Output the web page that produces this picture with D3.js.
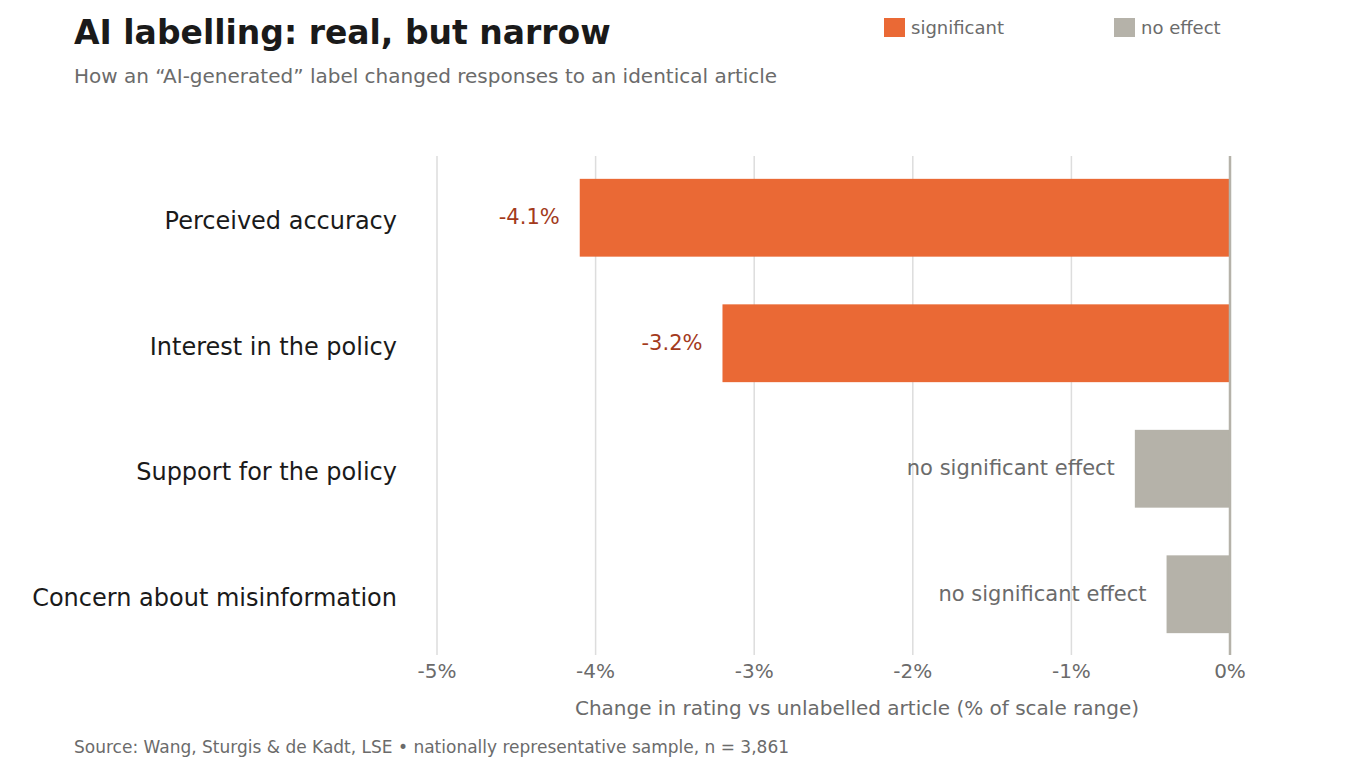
<html>
<head>
<meta charset="utf-8">
<script src="https://d3js.org/d3.v7.min.js"></script>
<style>
body { margin: 0; background: #fff; font-family: "DejaVu Sans", sans-serif; }
</style>
</head>
<body>
<svg id="page"></svg>
<script>
// data
var categories = ["Perceived accuracy", "Interest in the policy", "Support for the policy", "Concern about misinformation"];
var values = [-4.1, -3.2, -0.6, -0.4];
var significant = [true, true, false, false];
var ticks = [-5, -4, -3, -2, -1, 0];

var orange = "#ea6935", grey = "#b5b2a9", darkText = "#1a1a1a", mid = "#6b6b6b";

var svg = d3.select("#page").attr("width", 1350).attr("height", 780);

var x = d3.scaleLinear().domain([-5, 0]).range([437, 1230]);
var y = d3.scaleBand().domain(categories).range([155, 657]).paddingInner(0.38).paddingOuter(0.19);

// gridlines
svg.selectAll(".grid").data(ticks).enter().append("line")
  .attr("x1", d => x(d)).attr("x2", d => x(d))
  .attr("y1", 156).attr("y2", 655)
  .attr("stroke", "#dddddd").attr("stroke-width", 1.5);

// bars
svg.selectAll(".bar").data(values).enter().append("rect")
  .attr("x", d => x(d)).attr("width", d => x(0) - x(d))
  .attr("y", (d, i) => y(categories[i])).attr("height", y.bandwidth())
  .attr("fill", (d, i) => significant[i] ? orange : grey);

// zero line
svg.append("line").attr("x1", x(0)).attr("x2", x(0)).attr("y1", 156).attr("y2", 655)
  .attr("stroke", grey).attr("stroke-width", 2.5);

// value labels
svg.selectAll(".val").data(values).enter().append("text")
  .attr("x", d => x(d) - 20)
  .attr("y", (d, i) => y(categories[i]) + y.bandwidth() / 2)
  .attr("dy", "0.3em").attr("text-anchor", "end").style("font-size", "21px")
  .attr("fill", (d, i) => significant[i] ? "#a33a1c" : mid)
  .text((d, i) => significant[i] ? d.toFixed(1) + "%" : "no significant effect");

// category labels
svg.selectAll(".cat").data(categories).enter().append("text")
  .attr("x", 397).attr("y", d => y(d) + y.bandwidth() / 2 + 3)
  .attr("dy", "0.35em").attr("text-anchor", "end").style("font-size", "24px")
  .attr("fill", darkText).text(d => d);

// tick labels
svg.selectAll(".tick").data(ticks).enter().append("text")
  .attr("x", d => x(d)).attr("y", 678).attr("text-anchor", "middle")
  .style("font-size", "20px").attr("fill", mid).text(d => d + "%");

svg.append("text").attr("x", 857).attr("y", 715).attr("text-anchor", "middle")
  .style("font-size", "20px").attr("fill", mid)
  .text("Change in rating vs unlabelled article  (% of scale range)");

// titles
svg.append("text").attr("x", 74).attr("y", 44).style("font-size", "33px").style("font-weight", "bold")
  .attr("fill", darkText).text("AI labelling: real, but narrow");
svg.append("text").attr("x", 74).attr("y", 83).style("font-size", "20px").attr("fill", mid)
  .text("How an \u201cAI-generated\u201d label changed responses to an identical article");
svg.append("text").attr("x", 74).attr("y", 753).style("font-size", "17px").attr("fill", mid)
  .text("Source: Wang, Sturgis & de Kadt, LSE  \u2022  nationally representative sample, n = 3,861");

// legend
var legend = [["significant", orange, 884], ["no effect", grey, 1114]];
legend.forEach(function (l) {
  svg.append("rect").attr("x", l[2]).attr("y", 18).attr("width", 21).attr("height", 19).attr("fill", l[1]);
  svg.append("text").attr("x", l[2] + 27).attr("y", 34).style("font-size", "18px").attr("fill", mid).text(l[0]);
});
</script>
</body>
</html>
